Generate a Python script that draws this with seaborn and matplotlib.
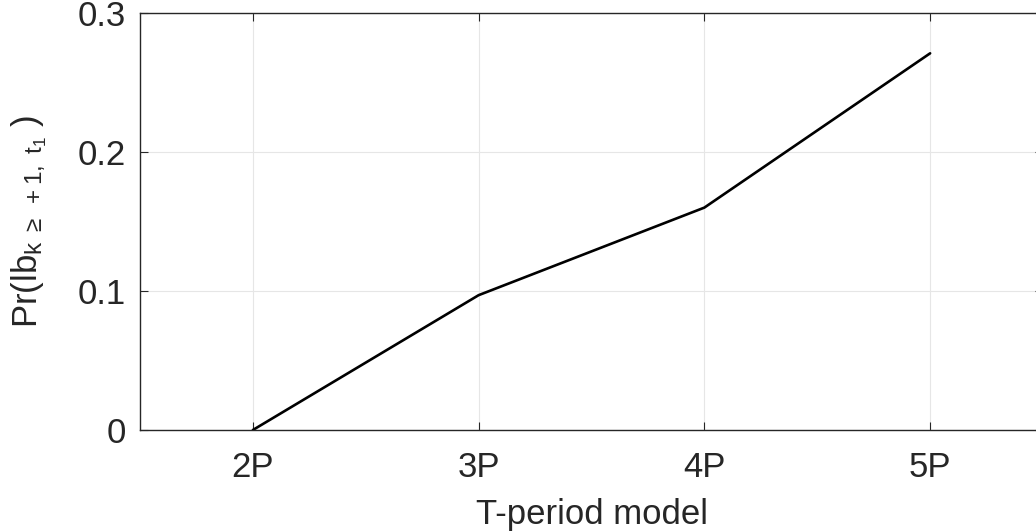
import matplotlib
matplotlib.use("Agg")
import matplotlib.pyplot as plt
import seaborn as sns
import pandas as pd

categories = ["2P", "3P", "4P", "5P"]
x_positions = [2, 3, 4, 5]
prob_values = [0.0, 0.097, 0.160, 0.271]
y_ticks = [0, 0.1, 0.2, 0.3]
y_tick_labels = ["0", "0.1", "0.2", "0.3"]

sns.set_theme(style="white")
plt.rcParams['font.family'] = ['Liberation Sans', 'DejaVu Sans']
plt.rcParams['mathtext.fontset'] = 'custom'
plt.rcParams['mathtext.rm'] = 'Liberation Sans'
plt.rcParams['mathtext.it'] = 'Liberation Sans'
plt.rcParams['mathtext.default'] = 'regular'

df = pd.DataFrame({"x": x_positions, "y": prob_values})

fig = plt.figure(figsize=(10.36, 5.32), dpi=100)
ax = fig.add_axes([140/1036, 102/532, (1043-140)/1036, (430-13)/532])

sns.lineplot(data=df, x="x", y="y", ax=ax, color="black", linewidth=1.9)

ax.set_xlim(1.5, 5.5)
ax.set_ylim(0, 0.3)
ax.set_xticks(x_positions)
ax.set_xticklabels(categories)
ax.set_yticks(y_ticks)
ax.set_yticklabels(y_tick_labels)

ax.grid(True, color="#e6e6e6", linewidth=0.8)
for s in ax.spines.values():
    s.set_color("#262626")
    s.set_linewidth(1.0)
    s.set_visible(True)

ax.tick_params(axis="both", which="both", direction="in", length=6, width=0.8,
               color="#262626", labelsize=25, labelcolor="#262626",
               top=True, right=True, bottom=True, left=True)
ax.tick_params(axis="y", pad=10)
ax.tick_params(axis="x", pad=15)

ax.set_xlabel("T-period model", fontsize=25, color="#262626")
ax.xaxis.set_label_coords(0.5, -0.163)
ax.xaxis.label.set_verticalalignment("top")
ax.set_ylabel(r"Pr(lb$_{k\ \geq\ +1,\ t_1}$ )", fontsize=25, color="#262626")
ax.yaxis.set_label_coords(-0.101, 0.5)

fig.savefig("out.png", dpi=100)
